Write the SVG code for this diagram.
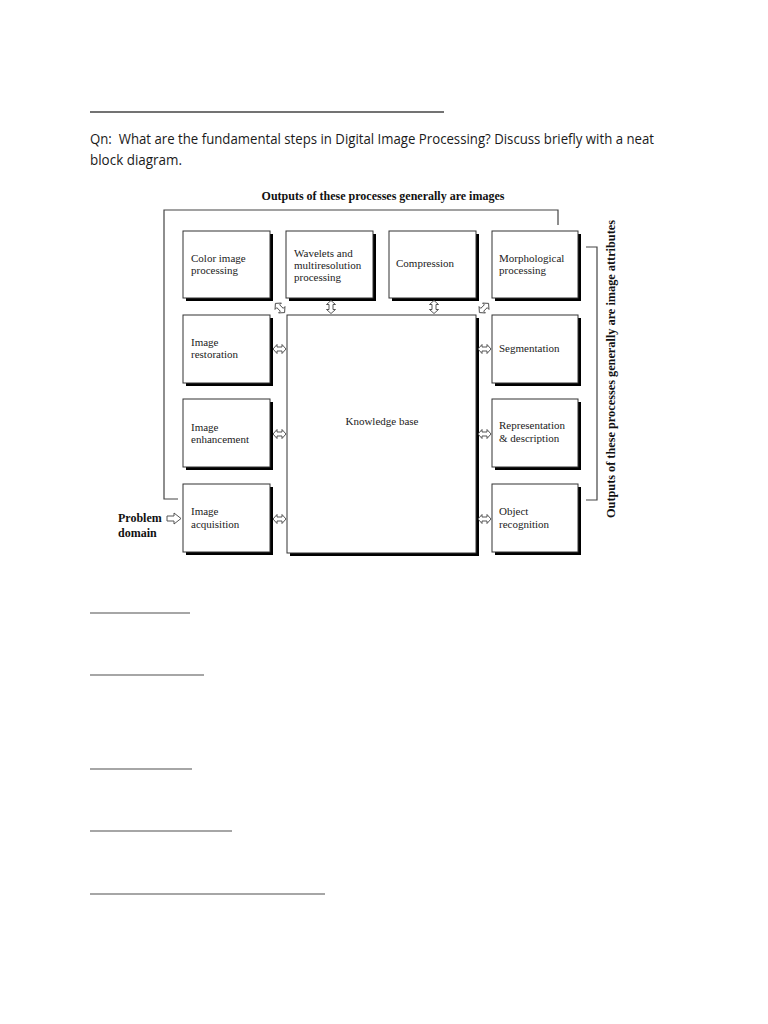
<svg xmlns="http://www.w3.org/2000/svg" width="768" height="1024" viewBox="0 0 768 1024">
<defs>
<style>
.q{font-family:"Open Sans","Liberation Sans",sans-serif;font-size:14px;fill:#1a1a1a}
.t{font-family:"Liberation Serif","DejaVu Serif",serif;font-size:11px;fill:#222}
.b{font-family:"Liberation Serif","DejaVu Serif",serif;font-size:12px;font-weight:bold;fill:#111}
.box{fill:#fff;stroke:#333;stroke-width:1}
.sh{fill:#000}
.br{fill:none;stroke:#444;stroke-width:1.2}
.rule{stroke:#888;stroke-width:1.5}
.ar{fill:#fff;stroke:#444;stroke-width:0.9}
</style>
<path id="dbl" d="M-6.5,0 L-2.5,-4.5 L-2.5,-2 L2.5,-2 L2.5,-4.5 L6.5,0 L2.5,4.5 L2.5,2 L-2.5,2 L-2.5,4.5 Z"/>
</defs>
<rect width="768" height="1024" fill="#fff"/>
<line x1="90" y1="112" x2="444" y2="112" stroke="#444" stroke-width="1.5"/>
<text class="q" x="90" y="144" textLength="564" lengthAdjust="spacingAndGlyphs">Qn:&#160; What are the fundamental steps in Digital Image Processing? Discuss briefly with a neat</text>
<text class="q" x="90" y="165" textLength="92" lengthAdjust="spacingAndGlyphs">block diagram.</text>

<text class="b" x="383" y="200" text-anchor="middle">Outputs of these processes generally are images</text>
<text class="b" transform="translate(615,369) rotate(-90)" text-anchor="middle" textLength="298" lengthAdjust="spacingAndGlyphs">Outputs of these processes generally are image attributes</text>
<text class="b" x="118" y="522">Problem</text>
<text class="b" x="118" y="537">domain</text>

<g id="brackets">
<polyline class="br" points="178,499 164,499 164,210 558,210 558,225"/>
<polyline class="br" points="586,247 597,247 597,500 586,500"/>
</g>

<g id="color"><rect class="sh" x="186" y="234" width="87" height="67"/><rect class="box" x="183" y="231" width="87" height="67"/><text class="t" x="191" y="262">Color image</text><text class="t" x="191" y="274">processing</text></g>
<g id="wavelets"><rect class="sh" x="289" y="234" width="87" height="67"/><rect class="box" x="286" y="231" width="87" height="67"/><text class="t" x="294" y="257">Wavelets and</text><text class="t" x="294" y="269">multiresolution</text><text class="t" x="294" y="281">processing</text></g>
<g id="compression"><rect class="sh" x="392" y="234" width="87" height="67"/><rect class="box" x="389" y="231" width="87" height="67"/><text class="t" x="396" y="267">Compression</text></g>
<g id="morph"><rect class="sh" x="495" y="234" width="86" height="67"/><rect class="box" x="492" y="231" width="86" height="67"/><text class="t" x="499" y="262">Morphological</text><text class="t" x="499" y="274">processing</text></g>

<g id="restoration"><rect class="sh" x="186" y="318" width="87" height="68"/><rect class="box" x="183" y="315" width="87" height="68"/><text class="t" x="191" y="346">Image</text><text class="t" x="191" y="358">restoration</text></g>
<g id="enhancement"><rect class="sh" x="186" y="402" width="87" height="68"/><rect class="box" x="183" y="399" width="87" height="68"/><text class="t" x="191" y="431">Image</text><text class="t" x="191" y="443">enhancement</text></g>
<g id="acquisition"><rect class="sh" x="186" y="487" width="87" height="68"/><rect class="box" x="183" y="484" width="87" height="68"/><text class="t" x="191" y="515">Image</text><text class="t" x="191" y="528">acquisition</text></g>

<g id="knowledge"><rect class="sh" x="290" y="318" width="189" height="238"/><rect class="box" x="287" y="315" width="189" height="238"/><text class="t" x="382" y="425" text-anchor="middle">Knowledge base</text></g>

<g id="segmentation"><rect class="sh" x="495" y="318" width="86" height="68"/><rect class="box" x="492" y="315" width="86" height="68"/><text class="t" x="499" y="352">Segmentation</text></g>
<g id="representation"><rect class="sh" x="495" y="402" width="86" height="68"/><rect class="box" x="492" y="399" width="86" height="68"/><text class="t" x="499" y="429">Representation</text><text class="t" x="499" y="442">&amp; description</text></g>
<g id="recognition"><rect class="sh" x="495" y="487" width="86" height="68"/><rect class="box" x="492" y="484" width="86" height="68"/><text class="t" x="499" y="515">Object</text><text class="t" x="499" y="528">recognition</text></g>

<g id="connectors">
<use href="#dbl" class="ar" transform="translate(279.5,349)"/>
<use href="#dbl" class="ar" transform="translate(279.5,434)"/>
<use href="#dbl" class="ar" transform="translate(279.5,519)"/>
<use href="#dbl" class="ar" transform="translate(484.5,349)"/>
<use href="#dbl" class="ar" transform="translate(484.5,434)"/>
<use href="#dbl" class="ar" transform="translate(484.5,519)"/>
<use href="#dbl" class="ar" transform="translate(331,307) rotate(90)"/>
<use href="#dbl" class="ar" transform="translate(434,307) rotate(90)"/>
<use href="#dbl" class="ar" transform="translate(280,308) rotate(45)"/>
<use href="#dbl" class="ar" transform="translate(484,308) rotate(-45)"/>
<path class="ar" d="M167,516 L174,516 L174,513 L181,518.5 L174,524 L174,521 L167,521 Z"/>
</g>

<line class="rule" x1="90" y1="613" x2="190" y2="613"/>
<line class="rule" x1="90" y1="675" x2="204" y2="675"/>
<line class="rule" x1="90" y1="769" x2="192" y2="769"/>
<line class="rule" x1="90" y1="831" x2="232" y2="831"/>
<line class="rule" x1="90" y1="894" x2="325" y2="894"/>
</svg>
